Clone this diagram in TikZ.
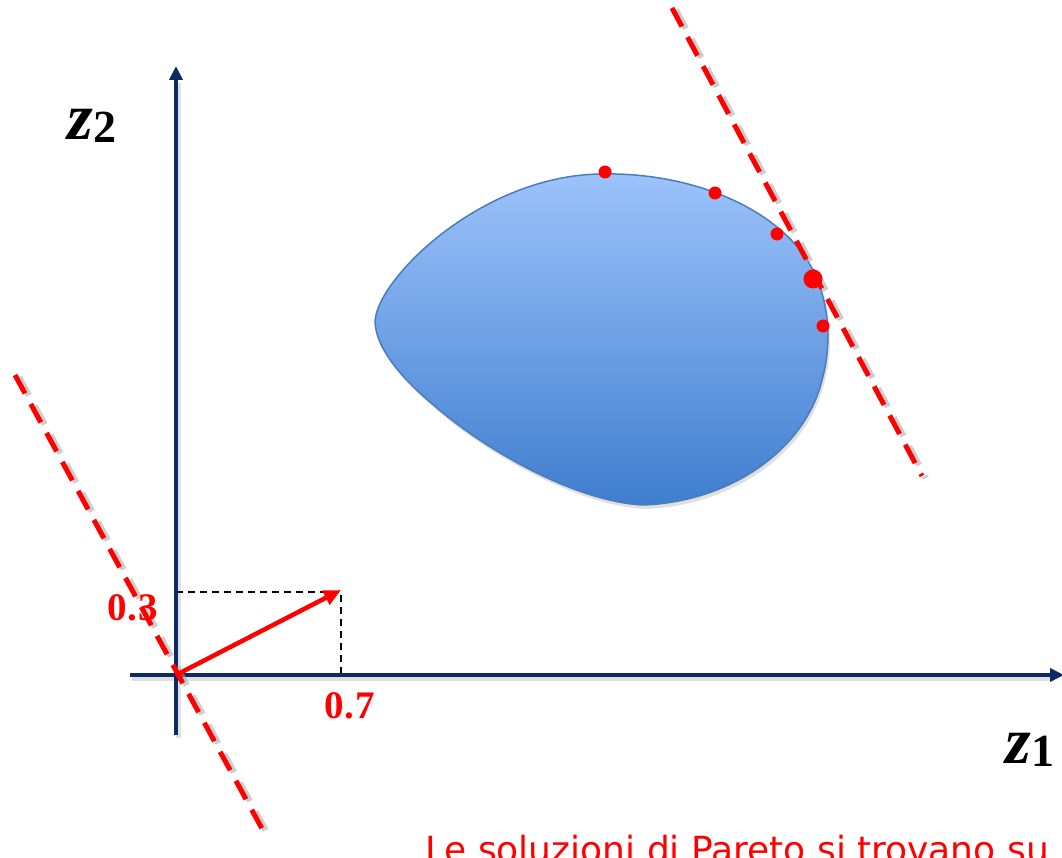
\documentclass[tikz,border=0pt]{standalone}
\usepackage{fontspec}
\setmainfont{Liberation Serif}
\newfontfamily\captfont{DejaVu Sans}
\usetikzlibrary{arrows.meta}
\definecolor{axisblue}{HTML}{0C2A63}
\definecolor{blobtop}{HTML}{9DC3FB}
\definecolor{blobbot}{HTML}{3F7ECE}
\definecolor{blobedge}{HTML}{4A7DBA}
\definecolor{pred}{HTML}{FF0000}
\newcommand\zlabel[1]{{\fontsize{66}{70}\selectfont\bfseries\itshape z}\raisebox{-0.32em}{\fontsize{46}{48}\selectfont\bfseries #1}}
\begin{document}
\begin{tikzpicture}[x=1pt,y=-1pt,
  axisline/.style={draw=axisblue,line width=4pt,-{Triangle[length=14pt,width=13pt]}},
  axisshadow/.style={draw=black!25,line width=5pt,opacity=0.5},
  tangent/.style={draw=pred,line width=5pt,dash pattern=on 21pt off 12pt},
  tangentshadow/.style={draw=black!35,line width=6pt,dash pattern=on 21pt off 12pt,opacity=0.55},
  guide/.style={draw=black,line width=1.5pt,dash pattern=on 7pt off 5pt},
  weightarrow/.style={draw=pred,line width=4.5pt,-{Triangle[length=17pt,width=15pt]}},
  numlabel/.style={text=pred,font=\fontsize{39}{41}\selectfont\bfseries,inner sep=0pt},
  dot/.style={circle,fill=pred,inner sep=0pt,minimum size=13pt},
  bigdot/.style={circle,fill=pred,inner sep=0pt,minimum size=19pt},
  blob/.style={draw=blobedge,line width=1.5pt,top color=blobtop,bottom color=blobbot}]
\useasboundingbox (0,0) rectangle (1062,858);
\clip (0,0) rectangle (1062,858);
% coordinates
\coordinate (O) at (176,675);
\coordinate (yb) at (176,735);
\coordinate (yt) at (176,66);
\coordinate (xl) at (130,675);
\coordinate (xr) at (1064,675);
\coordinate (P) at (341,590);
\coordinate (Px) at (341,675);
\coordinate (Py) at (176,592);
\coordinate (Pc) at (341,592);
\coordinate (t1a) at (15,375);
\coordinate (t1b) at (266,836);
\coordinate (t2a) at (672,8);
\coordinate (t2b) at (922,476);
% blob shadow
\begin{scope}[shift={(2,4)}]
\path[fill=black,opacity=0.12] (375,322) .. controls (376,280) and (480,176) .. (600,174)
  .. controls (680,172) and (760,200) .. (800,250)
  .. controls (832,290) and (832,345) .. (822,380)
  .. controls (805,450) and (730,502) .. (643,505)
  .. controls (580,502) and (490,455) .. (430,402)
  .. controls (395,372) and (376,345) .. (375,322) -- cycle;
\end{scope}
% blob
\path[blob] (375,322) .. controls (376,280) and (480,176) .. (600,174)
  .. controls (680,172) and (760,200) .. (800,250)
  .. controls (832,290) and (832,345) .. (822,380)
  .. controls (805,450) and (730,502) .. (643,505)
  .. controls (580,502) and (490,455) .. (430,402)
  .. controls (395,372) and (376,345) .. (375,322) -- cycle;
% axes shadows
\draw[axisshadow] ([shift={(2,3)}]xl) -- ([shift={(2,3)}]1050,675);
\draw[axisshadow] ([shift={(2,3)}]yb) -- ([shift={(2,3)}]176,80);
% guides
\draw[guide] (Py) -- (Pc) -- (Px);
% axes
\draw[axisline] (xl) -- (xr);
\draw[axisline] (yb) -- (yt);
% tangent lines
\draw[tangentshadow] ([shift={(4,2)}]t1a) -- ([shift={(4,2)}]t1b);
\draw[tangent] (t1a) -- (t1b);
\draw[tangentshadow] ([shift={(4,2)}]t2a) -- ([shift={(4,2)}]t2b);
\draw[tangent] (t2a) -- (t2b);
% weight vector
\draw[weightarrow] (O) -- (P);
% dots
\node[dot] (d1) at (605,172) {};
\node[dot] (d2) at (715,193) {};
\node[dot] (d3) at (777,234) {};
\node[bigdot] (d4) at (813,279) {};
\node[dot] (d5) at (823,326) {};
% labels
\node[numlabel] (l03) at (133,608) {0.\kern2pt3};
\node[numlabel] (l07) at (350,706) {0.\kern2pt7};
\node[inner sep=0pt] (lz2) at (92,126) {\zlabel{2}};
\node[inner sep=0pt] (lz1) at (1030,750) {\zlabel{1}};
\node[anchor=base west,inner sep=0pt,text=pred,font=\captfont\fontsize{36}{38}\selectfont] (cap) at (425,862) {Le soluzioni di Pareto si trovano su};
\end{tikzpicture}
\end{document}
